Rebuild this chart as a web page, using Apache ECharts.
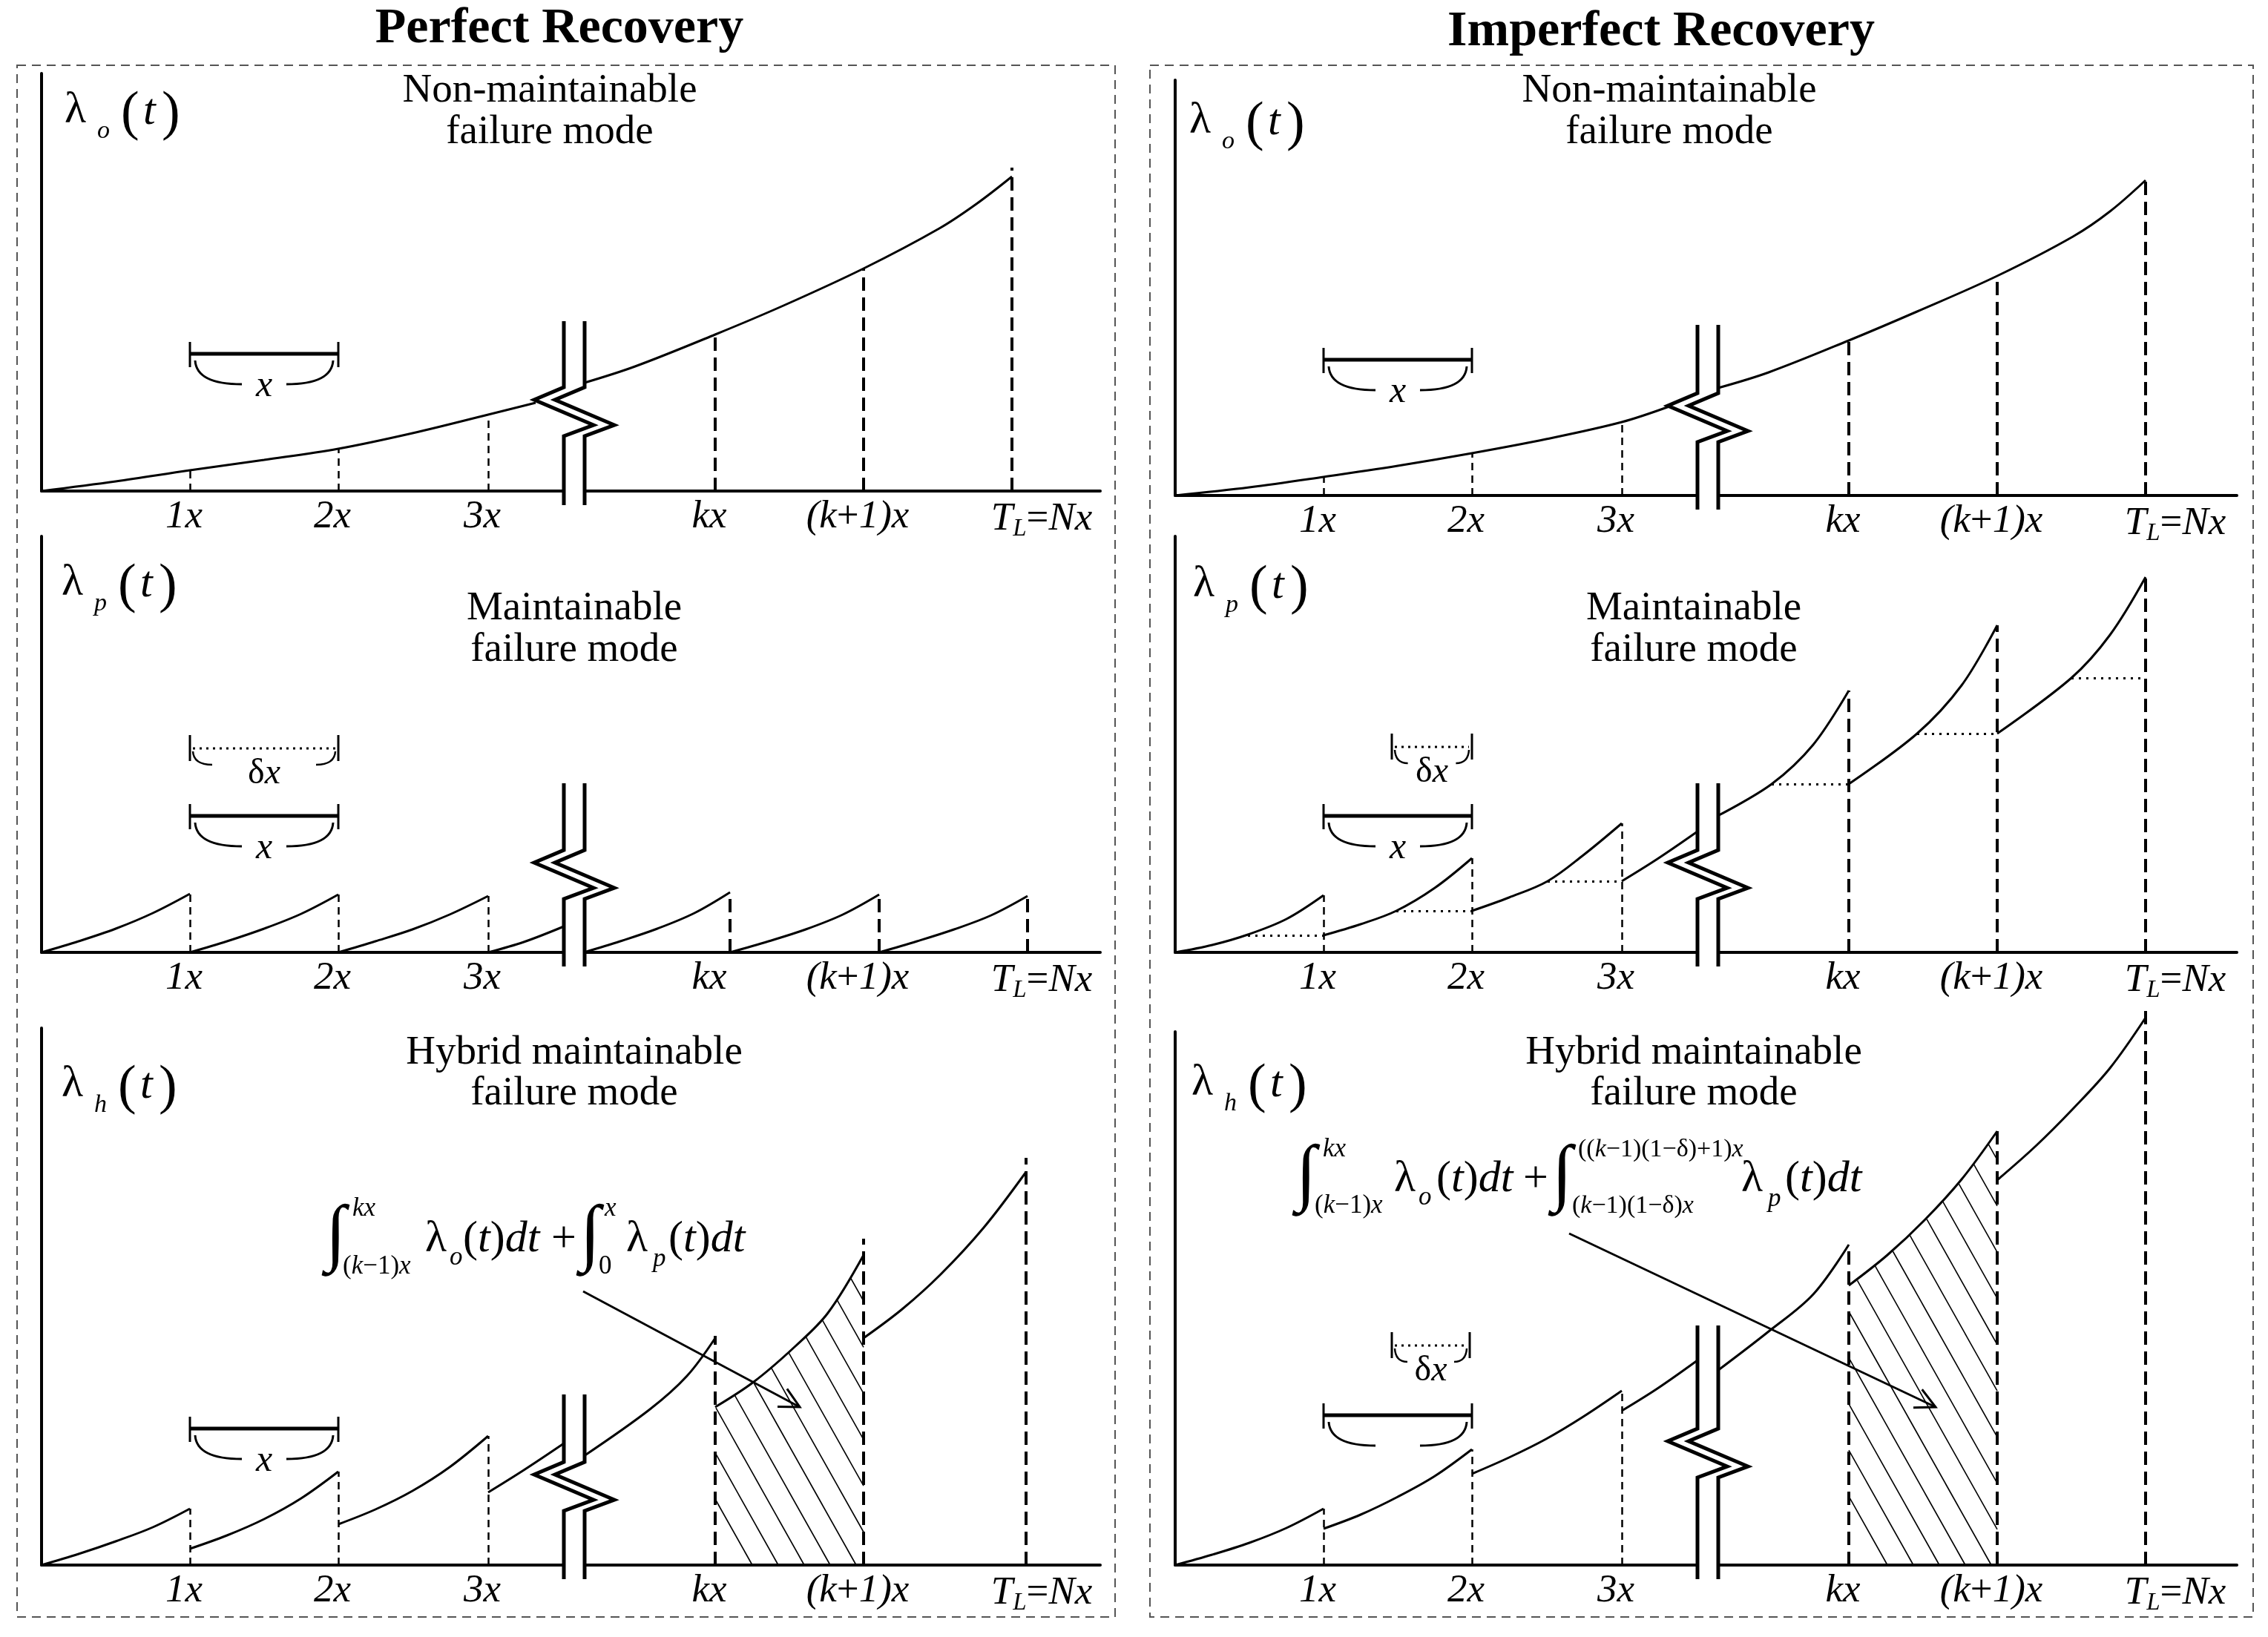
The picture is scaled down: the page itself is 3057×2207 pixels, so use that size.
<!DOCTYPE html>
<html>
<head>
<meta charset="utf-8">
<script src="https://cdn.jsdelivr.net/npm/echarts@6.0.0/dist/echarts.min.js"></script>
<style>
html,body{margin:0;padding:0;background:#ffffff;}
#chart{width:3057px;height:2207px;}
</style>
</head>
<body>
<div id="chart"></div>
<script>
// ====================== DATA ======================
// x: time in units of the interval x (origin = 0); y: height above the time axis
const xTickValues = [1, 2, 3.01, 4.54, 5.54, 6.54];
const xTickLabels = ['1x', '2x', '3x', 'kx', '(k+1)x', 'T_L=Nx'];
const axisBreakX = 3.59;

// Perfect recovery – non-maintainable failure mode  λo(t)
const perfectNonMaintCurve = [
  [[0,0],[0.5,13],[1,28],[1.5,42],[2,57],[2.5,78],[3.01,103],[3.33,119]],
  [[3.66,146],[4,168],[4.54,211],[5,250],[5.54,300],[6.05,354],[6.3,387],[6.54,424]]
];
const perfectNonMaintMarks = [[1,28],[2,57],[3.01,103],[4.54,212],[5.54,300],[6.54,436]];

// Imperfect recovery – non-maintainable failure mode  λo(t)
const imperfectNonMaintCurve = [
  [[0,0],[0.5,11],[1,25],[1.5,40],[2,57],[2.5,76],[3.01,99],[3.33,120]],
  [[3.66,145],[4,166],[4.54,209],[5,248],[5.54,296],[6.05,349],[6.3,383],[6.54,425]]
];
const imperfectNonMaintMarks = [[1,25],[2,57],[3.01,99],[4.54,209],[5.54,296],[6.54,432]];

// Perfect recovery – maintainable failure mode  λp(t)
const perfectMaintCurve = [
  [[0,0],[0.25,15],[0.5,32],[0.75,53],[1,79]],
  [[1,0],[1.25,15],[1.5,32],[1.75,52],[2,78]],
  [[2,0],[2.25,15],[2.5,31],[2.75,51],[3.01,76]],
  [[3.01,0],[3.25,14],[3.52,35]],
  [[3.655,0],[3.9,15],[4.15,32],[4.4,53],[4.64,81]],
  [[4.64,0],[4.9,15],[5.15,31],[5.4,51],[5.645,78]],
  [[5.645,0],[5.9,15],[6.15,31],[6.4,50],[6.645,76]]
];
const perfectMaintMarks = [[1,79],[2,78],[3.01,76],[4.64,81],[5.645,78],[6.645,76]];

// Imperfect recovery – maintainable failure mode  λp(t)
const imperfectMaintCurve = [
  [[0,0],[0.25,10],[0.49,24],[0.75,45],[1,77]],
  [[1,23],[1.25,38],[1.49,56],[1.75,87],[2,127]],
  [[2,56],[2.25,74],[2.51,96],[2.75,131],[3.01,174]],
  [[3.01,96],[3.25,126],[3.52,163]],
  [[3.655,184],[4.02,227],[4.3,280],[4.54,353]],
  [[4.54,227],[5,295],[5.3,360],[5.54,441]],
  [[5.54,295],[6.04,370],[6.3,428],[6.54,506]]
];
const imperfectMaintMarks = [[1,77],[2,127],[3.01,174],[4.54,353],[5.54,441],[6.54,510]];
const imperfectMaintAgeLevels = [[0.49,1,23],[1.49,2,56],[2.51,3.01,96],[4.02,4.54,227],[5,5.54,295],[6.04,6.54,370]];

// Perfect recovery – hybrid maintainable failure mode  λh(t)
const perfectHybridCurve = [
  [[0,0],[0.25,15],[0.5,32],[0.75,51],[1,76]],
  [[1,22],[1.25,40],[1.5,62],[1.75,90],[2,126]],
  [[2,55],[2.25,75],[2.5,100],[2.75,132],[3.01,174]],
  [[3.01,98],[3.25,128],[3.52,164]],
  [[3.655,147],[4.1,210],[4.35,255],[4.54,306]],
  [[4.54,213],[4.8,247],[5.08,295],[5.3,340],[5.54,418]],
  [[5.54,306],[5.8,345],[6.06,392],[6.35,455],[6.635,530]]
];
const perfectHybridMarks = [[1,76],[2,126],[3.01,174],[4.54,309],[5.54,440],[6.635,549]];
const perfectHybridShaded = [4.54, 5.54];

// Imperfect recovery – hybrid maintainable failure mode  λh(t)
const imperfectHybridCurve = [
  [[0,0],[0.25,14],[0.5,30],[0.75,50],[1,76]],
  [[1,49],[1.25,68],[1.5,92],[1.75,120],[2,156]],
  [[2,123],[2.25,145],[2.5,170],[2.75,200],[3.01,235]],
  [[3.01,208],[3.25,238],[3.52,276]],
  [[3.655,262],[4,315],[4.3,365],[4.54,432]],
  [[4.54,377],[4.8,418],[5.05,465],[5.3,520],[5.54,585]],
  [[5.54,519],[5.8,565],[6.05,615],[6.3,670],[6.54,738]]
];
const imperfectHybridMarks = [[1,76],[2,156],[3.01,235],[4.54,432],[5.54,590],[6.54,751]];
const imperfectHybridShaded = [4.54, 5.54];

// ====================== LAYOUT / ANNOTATIONS ======================
const FONT = "'Liberation Serif', 'Times New Roman', serif";
const PX_PER_UNIT = 200;

const panels = [
  { grid:{left:56, top:99, width:1427, height:563}, curve:perfectNonMaintCurve, marks:perfectNonMaintMarks,
    brk:{top:229, zig:107}, brackets:[{x0:1, x1:2, y:185, label:'x'}] },
  { grid:{left:1584, top:108, width:1431, height:560}, curve:imperfectNonMaintCurve, marks:imperfectNonMaintMarks,
    brk:{top:230, zig:105}, brackets:[{x0:1, x1:2, y:183, label:'x'}] },
  { grid:{left:56, top:723, width:1427, height:561}, curve:perfectMaintCurve, marks:perfectMaintMarks,
    brk:{top:228, zig:105}, brackets:[{x0:1, x1:2, y:275, label:'δx', dotted:true},{x0:1, x1:2, y:184, label:'x'}] },
  { grid:{left:1584, top:723, width:1431, height:561}, curve:imperfectMaintCurve, marks:imperfectMaintMarks,
    dots:imperfectMaintAgeLevels,
    brk:{top:228, zig:105}, brackets:[{x0:1.46, x1:2, y:277, label:'δx', dotted:true},{x0:1, x1:2, y:184, label:'x'}] },
  { grid:{left:56, top:1386, width:1427, height:724}, curve:perfectHybridCurve, marks:perfectHybridMarks,
    shaded:perfectHybridShaded, shadeTop:5, shadePhase:50,
    arrow:[3.65,369,5.11,213],
    brk:{top:230, zig:106}, brackets:[{x0:1, x1:2, y:184, label:'x'}] },
  { grid:{left:1584, top:1391, width:1431, height:719}, curve:imperfectHybridCurve, marks:imperfectHybridMarks,
    shaded:imperfectHybridShaded, shadeTop:5, shadePhase:52,
    arrow:[2.655,447,5.125,213],
    brk:{top:323, zig:151}, brackets:[{x0:1.46, x1:1.985, y:296, label:'δx', dotted:true},{x0:1, x1:2, y:202, label:''}] }
];

// ====================== HELPERS ======================
function richLabel(s) {
  const toks = [];
  for (let i = 0; i < s.length; i++) {
    let c = s[i], t;
    if (c === '_') { i++; c = s[i]; t = 's'; }
    else if (c === '+' || c === '=') t = 'n';
    else t = 'i';
    if (toks.length && toks[toks.length-1].t === t && t !== 's') toks[toks.length-1].c += c;
    else toks.push({t, c});
  }
  const hasEq = s.indexOf('=') >= 0;
  let out = hasEq ? '{w| }' : '';
  toks.forEach(k => { out += '{' + k.t + '|' + k.c + '}'; });
  if (!hasEq) out += '{e| }';
  return out;
}

function makeBreak(cfg) {
  return function (params, api) {
    const c = api.coord([api.value(0), 0]);
    const cx = c[0], ay = c[1];
    const zc = ay - cfg.zig;
    const path = [[0, ay - cfg.top],[0, zc - 33],[-40, zc - 16],[40, zc + 18],[0, zc + 33],[0, ay + 19]];
    const L = path.map(p => [cx + p[0] - 14, p[1]]);
    const R = path.map(p => [cx + p[0] + 14, p[1]]);
    return { type:'group', children:[
      { type:'polygon', shape:{points:L.concat(R.slice().reverse())}, style:{fill:'#ffffff', stroke:'none'} },
      { type:'polyline', shape:{points:L}, style:{stroke:'#000', lineWidth:5, fill:'none', lineJoin:'miter'} },
      { type:'polyline', shape:{points:R}, style:{stroke:'#000', lineWidth:5, fill:'none', lineJoin:'miter'} }
    ]};
  };
}

function makeBrackets(list) {
  return function (params, api) {
    const b = list[params.dataIndex];
    const a = api.coord([api.value(0), api.value(2)]);
    const e = api.coord([api.value(1), api.value(2)]);
    const p0 = a[0], p1 = e[0], py = a[1], mid = (p0 + p1) / 2;
    const ch = [];
    const ln = (x1,y1,x2,y2,w,dash) => ({type:'line', shape:{x1,y1,x2,y2}, style:{stroke:'#000', lineWidth:w, lineDash:dash||null}});
    const q = (x1,y1,cx,cy,x2,y2,w) => ({type:'bezierCurve', shape:{x1,y1,cpx1:cx,cpy1:cy,x2,y2}, style:{stroke:'#000', lineWidth:w, fill:'none'}});
    if (b.dotted) {
      ch.push(ln(p0+4, py, p1-4, py, 3, [3,6]));
      ch.push(ln(p0, py-18, p0, py+17, 3));
      ch.push(ln(p1, py-18, p1, py+17, 3));
      const aw = Math.min(30, (p1-p0)*0.2);
      ch.push(q(p0+4, py+4, p0+5, py+22, p0+aw, py+22, 2.5));
      ch.push(q(p1-aw, py+22, p1-5, py+22, p1-4, py+4, 2.5));
      ch.push({type:'text', x:mid, y:py+34, style:{text:'{n|δ}{i|x}', align:'center', verticalAlign:'middle', textAlign:'center', textVerticalAlign:'middle',
        rich:{n:{fontFamily:FONT, fontSize:48, color:'#000'}, i:{fontFamily:FONT, fontSize:48, fontStyle:'italic', color:'#000'}}}});
    } else {
      ch.push(ln(p0, py, p1, py, 5));
      ch.push(ln(p0, py-16, p0, py+18, 3));
      ch.push(ln(p1, py-16, p1, py+18, 3));
      ch.push(q(p0+7, py+9, p0+9, py+41, p0+70, py+41, 3));
      ch.push(q(p1-70, py+41, p1-9, py+41, p1-7, py+9, 3));
      if (b.label) ch.push({type:'text', x:mid, y:py+44, style:{text:b.label, font:'italic 50px ' + FONT, fill:'#000',
        align:'center', verticalAlign:'middle', textAlign:'center', textVerticalAlign:'middle'}});
    }
    return {type:'group', children:ch};
  };
}

function makeHatch(topCurve, phase) {
  return function (params, api) {
    const a = api.coord([api.value(0), 0]), b = api.coord([api.value(1), 0]);
    const ay = a[1];
    const pts = topCurve.map(p => api.coord(p));
    const cy = px => {
      for (let i = 0; i < pts.length - 1; i++) {
        const p = pts[i], r = pts[i+1];
        if (px >= p[0] && px <= r[0]) { const t = (px - p[0]) / (r[0] - p[0]); return p[1] + t * (r[1] - p[1]) + 1.5; }
      }
      return px < pts[0][0] ? pts[0][1] : pts[pts.length-1][1];
    };
    const m = 1.78, step = 35, ch = [];
    for (let k = 0, xb = a[0] + phase; k < 200; k++, xb += step) {
      const s0 = Math.max(0, xb - b[0]);
      if (ay - m * s0 < cy(xb - s0)) break;
      let s1 = s0;
      const sMax = xb - a[0];
      while (s1 + 0.5 <= sMax && ay - m * (s1 + 0.5) >= cy(xb - s1 - 0.5)) s1 += 0.5;
      if (s1 - s0 < 1) continue;
      ch.push({type:'line', shape:{x1:xb - s0, y1:ay - m*s0, x2:xb - s1, y2:ay - m*s1}, style:{stroke:'#000', lineWidth:1.6}});
    }
    return {type:'group', children:ch};
  };
}

function renderArrow(params, api) {
  const p = api.coord([api.value(0), api.value(1)]), q = api.coord([api.value(2), api.value(3)]);
  const ang = Math.atan2(p[1] - q[1], p[0] - q[0]);
  const L = 30, h = 27 * Math.PI / 180;
  const h1 = [q[0] + L * Math.cos(ang + h), q[1] + L * Math.sin(ang + h)];
  const h2 = [q[0] + L * Math.cos(ang - h), q[1] + L * Math.sin(ang - h)];
  return {type:'group', children:[
    {type:'line', shape:{x1:p[0], y1:p[1], x2:q[0], y2:q[1]}, style:{stroke:'#000', lineWidth:3}},
    {type:'polyline', shape:{points:[h1, q, h2]}, style:{stroke:'#000', lineWidth:3, fill:'none'}}
  ]};
}

// ====================== BUILD OPTION ======================
const grids = [], xAxes = [], yAxes = [], series = [];
panels.forEach((P, i) => {
  grids.push(Object.assign({outerBoundsMode:'none', containLabel:false}, P.grid));
  xAxes.push({
    type:'value', gridIndex:i, min:0, max:P.grid.width / PX_PER_UNIT,
    axisLine:{show:true, onZero:false, lineStyle:{color:'#000', width:4}},
    axisTick:{show:false}, splitLine:{show:false},
    axisLabel:{
      show:true, customValues:xTickValues, margin:9, color:'#000',
      formatter:function (v) {
        const k = xTickValues.findIndex(t => Math.abs(t - v) < 1e-6);
        return k < 0 ? '' : richLabel(xTickLabels[k]);
      },
      rich:{
        w:{width:80, fontSize:52},
        e:{width:16, fontSize:52},
        i:{fontFamily:FONT, fontSize:53, fontStyle:'italic', color:'#000'},
        n:{fontFamily:FONT, fontSize:53, color:'#000'},
        s:{fontFamily:FONT, fontSize:33, fontStyle:'italic', color:'#000', padding:[26,0,0,0]}
      }
    }
  });
  yAxes.push({
    type:'value', gridIndex:i, min:0, max:P.grid.height,
    axisLine:{show:true, onZero:false, lineStyle:{color:'#000', width:4}},
    axisTick:{show:false}, splitLine:{show:false}, axisLabel:{show:false}
  });

  // failure-rate curve segments
  P.curve.forEach(seg => {
    series.push({type:'line', xAxisIndex:i, yAxisIndex:i, data:seg, showSymbol:false, symbol:'none',
      smooth:0.35, clip:false, silent:true, z:3,
      lineStyle:{color:'#000', width:3}});
  });
  // dashed inspection / renewal lines
  series.push({type:'lines', coordinateSystem:'cartesian2d', xAxisIndex:i, yAxisIndex:i, silent:true, clip:false, z:2,
    lineStyle:{color:'#000', width:2.5, type:[10,7], opacity:1},
    data:P.marks.slice(0,3).map(m => ({coords:[[m[0],0],[m[0],m[1]]]}))});
  series.push({type:'lines', coordinateSystem:'cartesian2d', xAxisIndex:i, yAxisIndex:i, silent:true, clip:false, z:2,
    lineStyle:{color:'#000', width:4, type:[18,9], opacity:1},
    data:P.marks.slice(3).map(m => ({coords:[[m[0],0],[m[0],m[1]]]}))});
  // dotted age-reduction levels
  if (P.dots) {
    series.push({type:'lines', coordinateSystem:'cartesian2d', xAxisIndex:i, yAxisIndex:i, silent:true, clip:false, z:2,
      lineStyle:{color:'#000', width:3, type:[3,7], opacity:1},
      data:P.dots.map(d => ({coords:[[d[0],d[2]],[d[1],d[2]]]}))});
  }
  // hatched integral area
  if (P.shaded) {
    series.push({type:'custom', xAxisIndex:i, yAxisIndex:i, silent:true, clip:false, z:2,
      renderItem:makeHatch(P.curve[P.shadeTop], P.shadePhase), data:[P.shaded]});
  }
  // axis break symbol
  series.push({type:'custom', xAxisIndex:i, yAxisIndex:i, silent:true, clip:false, z:6,
    renderItem:makeBreak(P.brk), data:[[axisBreakX, 0]]});
  // interval brackets
  series.push({type:'custom', xAxisIndex:i, yAxisIndex:i, silent:true, clip:false, z:5,
    renderItem:makeBrackets(P.brackets), data:P.brackets.map(b => [b.x0, b.x1, b.y])});
  // arrow to hatched area
  if (P.arrow) {
    series.push({type:'custom', xAxisIndex:i, yAxisIndex:i, silent:true, clip:false, z:7,
      renderItem:renderArrow, data:[P.arrow]});
  }
});

// ---------------- text annotations ----------------
const G = [];
function txt(text, x, y, size, o) {
  o = o || {};
  const al = o.align || 'left';
  G.push({type:'text', x:x, y:y, silent:true, z:100, style:{
    text:text, fill:'#000',
    font:(o.italic ? 'italic ' : '') + (o.bold ? 'bold ' : '') + size + 'px ' + FONT,
    align:al, verticalAlign:'middle', textAlign:al, textVerticalAlign:'middle', rich:o.rich}});
}
function rtxt(text, x, y, size) {
  txt(text, x, y, size, {rich:{
    n:{fontFamily:FONT, fontSize:size, color:'#000'},
    i:{fontFamily:FONT, fontSize:size, fontStyle:'italic', color:'#000'}}});
}
function lambdaLabel(x, y, sub) {
  txt('λ', x, y, 60);
  txt(sub, x + 44, y + 28, 34, {italic:true});
  txt('(', x + 76, y + 6, 74);
  txt('t', x + 106, y + 2, 60, {italic:true});
  txt(')', x + 131, y + 6, 74);
}

// dashed frames
G.push({type:'rect', silent:true, z:1, shape:{x:23, y:88, width:1480, height:2092},
  style:{fill:'none', stroke:'#555', lineWidth:2, lineDash:[12,8]}});
G.push({type:'rect', silent:true, z:1, shape:{x:1550, y:88, width:1487, height:2092},
  style:{fill:'none', stroke:'#555', lineWidth:2, lineDash:[12,8]}});

// titles
txt('Perfect Recovery', 754, 39, 68, {bold:true, align:'center'});
txt('Imperfect Recovery', 2239, 43, 68, {bold:true, align:'center'});

// panel subtitles
txt('Non-maintainable', 741, 123, 55, {align:'center'});
txt('failure mode', 741, 179, 55, {align:'center'});
txt('Non-maintainable', 2250, 123, 55, {align:'center'});
txt('failure mode', 2250, 179, 55, {align:'center'});
txt('Maintainable', 774, 821, 55, {align:'center'});
txt('failure mode', 774, 877, 55, {align:'center'});
txt('Maintainable', 2283, 821, 55, {align:'center'});
txt('failure mode', 2283, 877, 55, {align:'center'});
txt('Hybrid maintainable', 774, 1420, 55, {align:'center'});
txt('failure mode', 774, 1475, 55, {align:'center'});
txt('Hybrid maintainable', 2283, 1420, 55, {align:'center'});
txt('failure mode', 2283, 1475, 55, {align:'center'});

// y-axis labels
lambdaLabel(87, 149, 'o');
lambdaLabel(1603, 163, 'o');
lambdaLabel(83, 786, 'p');
lambdaLabel(1608, 788, 'p');
lambdaLabel(83, 1462, 'h');
lambdaLabel(1606, 1460, 'h');

// formula – perfect recovery
txt('∫', 439, 1668, 100);
txt('kx', 475, 1630, 35, {italic:true});
rtxt('{n|(}{i|k}{n|−1)}{i|x}', 462, 1708, 35);
txt('λ', 573, 1671, 60);
txt('o', 606, 1696, 35, {italic:true});
rtxt('{n|(}{i|t}{n|)}{i|dt}', 624, 1671, 60);
txt('+', 743, 1671, 60);
txt('∫', 782, 1668, 100);
txt('x', 815, 1630, 35, {italic:true});
txt('0', 807, 1708, 35);
txt('λ', 844, 1671, 60);
txt('p', 880, 1698, 35, {italic:true});
rtxt('{n|(}{i|t}{n|)}{i|dt}', 901, 1671, 60);

// formula – imperfect recovery
txt('∫', 1747, 1587, 100);
txt('kx', 1783, 1550, 35, {italic:true});
rtxt('{n|(}{i|k}{n|−1)}{i|x}', 1772, 1626, 35);
txt('λ', 1879, 1590, 60);
txt('o', 1912, 1615, 35, {italic:true});
rtxt('{n|(}{i|t}{n|)}{i|dt}', 1936, 1590, 60);
txt('+', 2053, 1590, 60);
txt('∫', 2092, 1587, 100);
rtxt('{n|((}{i|k}{n|−1)(1−δ)+1)}{i|x}', 2127, 1550, 34);
rtxt('{n|(}{i|k}{n|−1)(1−δ)}{i|x}', 2119, 1626, 34);
txt('λ', 2347, 1590, 60);
txt('p', 2383, 1617, 35, {italic:true});
rtxt('{n|(}{i|t}{n|)}{i|dt}', 2406, 1590, 60);

const option = {
  backgroundColor:'#ffffff',
  animation:false,
  grid:grids, xAxis:xAxes, yAxis:yAxes, series:series,
  graphic:{elements:G}
};
const chart = echarts.init(document.getElementById('chart'), null, {renderer:'canvas'});
chart.setOption(option);
</script>
</body>
</html>
